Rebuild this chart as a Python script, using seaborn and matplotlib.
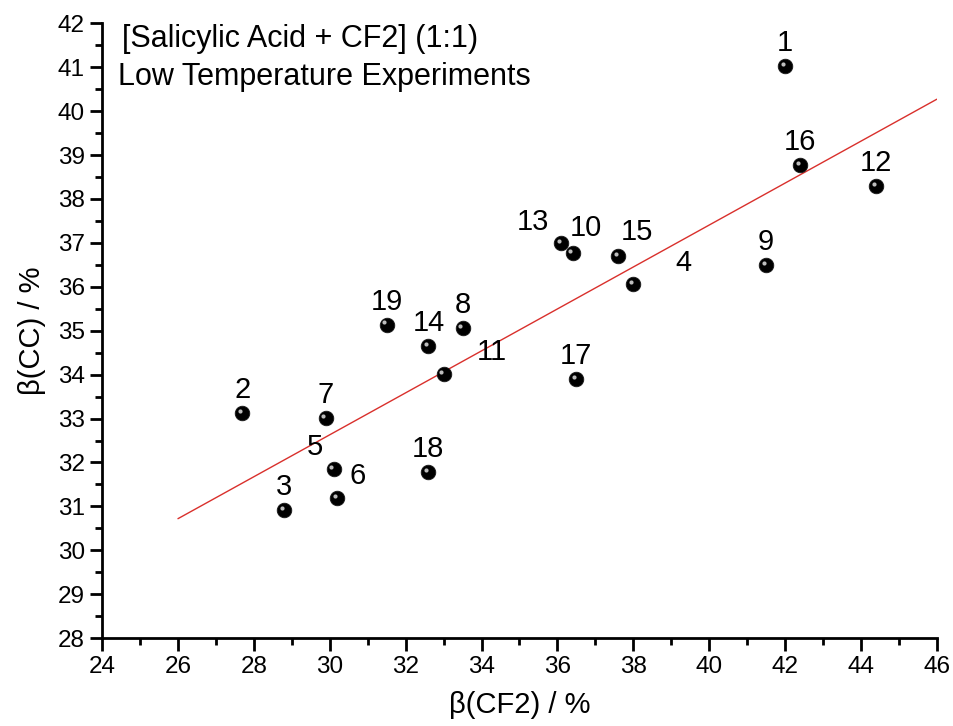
import numpy as np
import pandas as pd
import matplotlib.pyplot as plt
import matplotlib.transforms as mtransforms
from matplotlib.ticker import MultipleLocator
import seaborn as sns

# --- Datos ---
exp_id = ["1", "2", "3", "4", "5", "6", "7", "8", "9", "10",
          "11", "12", "13", "14", "15", "16", "17", "18", "19"]
beta_cf2 = [42.0, 27.7, 28.8, 38.0, 30.1, 30.2, 29.9, 33.5, 41.5, 36.4,
            33.0, 44.4, 36.1, 32.6, 37.6, 42.4, 36.5, 32.6, 31.5]
beta_cc = [41.02, 33.12, 30.91, 36.06, 31.85, 31.19, 33.01, 35.06, 36.49, 36.76,
           34.01, 38.29, 36.99, 34.65, 36.70, 38.77, 33.90, 31.78, 35.13]
fit_x = [26, 46]
fit_y = [30.72, 40.27]

# desplazamiento de las etiquetas (pixeles)
label_offsets = {"4": (50, 21), "5": (-19, 22), "6": (20, 22), "11": (48, 22),
                 "13": (-28, 21), "15": (19, 24), "10": (13, 25)}

df = pd.DataFrame({"id": exp_id, "CF2": beta_cf2, "CC": beta_cc})
df_fit = pd.DataFrame({"x": fit_x, "y": fit_y})

# --- Estilo ---
sns.set_style("ticks")
plt.rcParams["font.family"] = ["Liberation Sans", "DejaVu Sans"]
plt.rcParams["text.color"] = "black"
plt.rcParams["axes.labelcolor"] = "black"
plt.rcParams["xtick.color"] = "black"
plt.rcParams["ytick.color"] = "black"

fig = plt.figure(figsize=(9.54, 7.26), dpi=100)
ax = fig.add_axes([0.107, 0.121, 0.875, 0.847])

sns.lineplot(data=df_fit, x="x", y="y", ax=ax, color="#d9302c", linewidth=1.0)
sns.scatterplot(data=df, x="CF2", y="CC", ax=ax, color="black", s=110,
                edgecolor="#1a1a1a", linewidth=0.6, zorder=3)
# brillo de las esferas
shine = ax.transData + mtransforms.ScaledTranslation(-1.8 / 72, 1.8 / 72, fig.dpi_scale_trans)
ax.scatter(df["CF2"], df["CC"], s=9, color="#bdbdbd", transform=shine, zorder=4,
           linewidths=0)

px2pt = 72 / fig.dpi
for name, x, y in zip(df["id"], df["CF2"], df["CC"]):
    dx, dy = label_offsets.get(name, (0, 23))
    ax.annotate(name, (x, y), xytext=(dx * px2pt, dy * px2pt), textcoords="offset points",
                ha="center", va="center", fontsize=21)

ax.text(0.024, 0.974, "[Salicylic Acid + CF2] (1:1)", transform=ax.transAxes,
        fontsize=22, va="center", ha="left")
ax.text(0.019, 0.912, "Low Temperature Experiments", transform=ax.transAxes,
        fontsize=22, va="center", ha="left")

ax.set_xlim(24, 46)
ax.set_ylim(28, 42)
ax.xaxis.set_major_locator(MultipleLocator(2))
ax.xaxis.set_minor_locator(MultipleLocator(1))
ax.yaxis.set_major_locator(MultipleLocator(1))
ax.yaxis.set_minor_locator(MultipleLocator(0.5))
ax.tick_params(which="major", length=9, width=2, labelsize=17.5, direction="out")
ax.tick_params(which="minor", length=5, width=2, direction="out")
for s in ["left", "bottom"]:
    ax.spines[s].set_linewidth(2)
    ax.spines[s].set_color("black")
sns.despine(ax=ax)

ax.set_xlabel("β(CF2) / %", fontsize=21, labelpad=10)
ax.set_ylabel("β(CC) / %", fontsize=21, labelpad=8)

plt.savefig("out.png", dpi=100)
